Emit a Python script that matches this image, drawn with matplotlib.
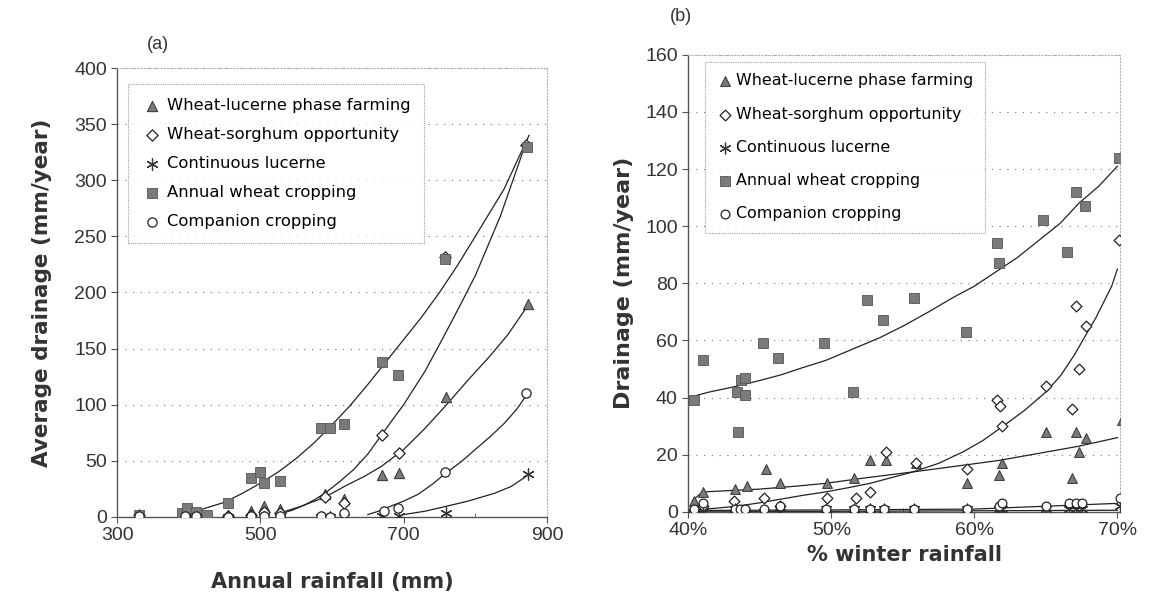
import matplotlib
matplotlib.use("Agg")
import matplotlib.pyplot as plt
from matplotlib.ticker import FuncFormatter, MultipleLocator

# ---------------- panel (a): drainage vs annual rainfall ----------------
a_wheat_x = [330, 390, 398, 410, 425, 455, 487, 499, 505, 527, 585, 597, 617, 670, 692, 757, 872]
a_wheat_y = [2, 3, 8, 4, 2, 12, 35, 40, 30, 32, 79, 79, 83, 138, 126, 230, 330]
a_luc_x = [330, 395, 410, 425, 455, 487, 505, 527, 590, 617, 670, 694, 759, 873]
a_luc_y = [1, 2, 1, 1, 2, 5, 10, 7, 20, 16, 37, 39, 107, 190]
a_sor_x = [330, 395, 410, 455, 487, 505, 527, 590, 617, 670, 694, 757, 871]
a_sor_y = [2, 2, 2, 1, 2, 4, 3, 18, 12, 73, 57, 232, 331]
a_comp_x = [330, 395, 410, 455, 487, 505, 527, 585, 597, 617, 673, 692, 757, 871]
a_comp_y = [1, 1, 1, 0, 1, 1, 1, 1, 0, 3, 5, 8, 40, 110]
a_cont_x = [330, 395, 410, 455, 487, 505, 527, 585, 597, 617, 670, 694, 759, 873]
a_cont_y = [0, 0, 0, 0, 0, 0, 0, 0, 0, 0, 1, 1, 3, 38]

# trend lines
a_fit_wheat_x = [400, 425, 450, 475, 500, 525, 550, 575, 600, 625, 650, 675, 700, 725, 750, 775, 800, 840, 875]
a_fit_wheat_y = [3, 8, 13, 21, 30, 40, 52, 66, 82, 99, 118, 138, 158, 178, 200, 224, 250, 292, 340]
a_fit_sor_x = [530, 545, 560, 575, 590, 610, 630, 650, 668, 685, 700, 730, 757, 780, 800, 835, 870]
a_fit_sor_y = [3, 6, 10, 15, 21, 31, 42, 56, 72, 87, 100, 130, 162, 190, 215, 268, 332]
a_fit_luc_x = [530, 555, 580, 600, 620, 645, 669, 700, 730, 760, 790, 820, 845, 873]
a_fit_luc_y = [4, 9, 15, 21, 28, 36, 45, 60, 79, 100, 122, 143, 162, 188]
a_fit_comp_x = [650, 665, 680, 700, 720, 740, 757, 780, 800, 820, 840, 858, 871]
a_fit_comp_y = [2, 5, 9, 14, 20, 29, 38, 49, 60, 71, 83, 96, 108]
a_fit_cont_x = [700, 730, 757, 790, 827, 850, 871]
a_fit_cont_y = [2, 5, 9, 14, 21, 27, 36]

# ---------------- panel (b): drainage vs % winter rainfall ----------------
b_wheat_x = [40.4, 41.0, 43.5, 43.4, 43.7, 44.0, 44.0, 45.2, 46.3, 49.5, 51.5, 52.5, 53.6,
             55.8, 59.4, 61.6, 61.7, 64.8, 66.5, 67.1, 67.7, 70.1]
b_wheat_y = [39, 53, 28, 42, 46, 47, 41, 59, 54, 59, 42, 74, 67, 75, 63, 94, 87, 102, 91, 112, 107, 124]
b_sor_x = [40.4, 41.0, 43.2, 45.3, 46.4, 49.7, 51.7, 52.7, 53.8, 55.9, 59.5, 61.6, 61.8, 61.9,
           65.0, 66.8, 67.1, 67.3, 67.8, 70.1]
b_sor_y = [0, 2, 4, 5, 2, 5, 5, 7, 21, 17, 15, 39, 37, 30, 44, 36, 72, 50, 65, 95]
b_luc_x = [40.4, 41.0, 43.3, 44.1, 45.4, 46.4, 49.7, 51.6, 52.7, 53.8, 55.9, 59.5, 61.7, 61.9,
           65.0, 66.8, 67.1, 67.3, 67.8, 70.3]
b_luc_y = [4, 7, 8, 9, 15, 10, 10, 12, 18, 18, 17, 10, 13, 17, 28, 12, 28, 21, 26, 32]
b_site_x = [40.4, 41.0, 43.3, 43.6, 44.0, 45.3, 46.4, 49.6, 51.6, 52.7, 53.7, 55.8, 59.5, 61.7,
            61.9, 65.0, 66.6, 67.1, 67.5, 70.2]
b_comp_y = [1, 3, 1, 1, 1, 1, 2, 1, 1, 1, 1, 1, 1, 2, 3, 2, 3, 3, 3, 5]
b_cont_y = [0, 0, 1, 0, 0, 0, 0, 1, 1, 1, 1, 1, 1, 1, 1, 1, 1, 1, 1, 2]

b_fit_wheat_x = [40, 41.5, 43.4, 45, 46.5, 48, 49.6, 51.5, 53.4, 55, 56.8, 58.5, 60, 61.5, 63, 64.5, 66, 67.3, 68.7, 70]
b_fit_wheat_y = [40, 42, 44, 46, 48, 50.5, 53, 57, 61, 65, 70, 75, 79, 84, 89, 95, 101, 108, 114, 121]
b_fit_sor_x = [40, 41.7, 43.4, 45, 46.5, 48, 49.6, 51.2, 52.7, 54.2, 55.7, 57.5, 59.2, 60.6, 62,
               63.5, 65, 66, 67, 67.8, 68.5, 69.1, 69.6, 70]
b_fit_sor_y = [0.5, 1.2, 2, 3.2, 4.5, 5.8, 7, 8.5, 10, 12, 14, 17, 21, 25, 30, 35.5, 42, 47.5, 55, 62, 68, 74, 79, 85]
b_fit_luc_x = [40.3, 41, 43, 45, 47.5, 49.6, 52.5, 55.7, 58.7, 61.7, 64.5, 67.3, 70]
b_fit_luc_y = [4, 7, 7.5, 8, 9, 10, 12, 14, 16, 18, 20.5, 23, 26]
b_fit_comp_x = [40, 50, 60, 65, 70]
b_fit_comp_y = [0.5, 0.7, 1, 2, 3]
b_fit_cont_x = [40, 55, 70]
b_fit_cont_y = [0, 0.3, 0.6]

labels = ["Wheat-lucerne phase farming", "Wheat-sorghum opportunity",
          "Continuous lucerne", "Annual wheat cropping", "Companion cropping"]

plt.rcParams['font.family'] = ['Liberation Sans', 'DejaVu Sans']

fig = plt.figure(figsize=(11.49, 6.08), dpi=100)
ax1 = fig.add_axes([0.102, 0.150, 0.374, 0.738])
ax2 = fig.add_axes([0.599, 0.158, 0.376, 0.752])

fill = '#7a7a7a'
edge = '#333333'
ast = (6, 2, 0)


def draw_points(ax, luc, sor, cont, wheat, comp, ms):
    ax.scatter(*luc, marker='^', s=ms, facecolor=fill, edgecolor=edge, lw=0.7, zorder=3, label=labels[0])
    ax.scatter(*sor, marker='D', s=ms * 0.6, facecolor='white', edgecolor='#222', lw=0.9, zorder=3, label=labels[1])
    ax.scatter(*cont, marker=ast, s=ms * 1.2, color='#333', lw=0.9, zorder=3, label=labels[2])
    ax.scatter(*wheat, marker='s', s=ms * 0.9, facecolor=fill, edgecolor='#555', lw=0.6, zorder=3, label=labels[3])
    ax.scatter(*comp, marker='o', s=ms * 0.8, facecolor='white', edgecolor='#222', lw=0.9, zorder=3, label=labels[4])


def style(ax):
    for side in ['top', 'right']:
        ax.spines[side].set_linestyle((0, (1, 2)))
        ax.spines[side].set_color('#b0b0b0')
        ax.spines[side].set_linewidth(0.8)
    for side in ['left', 'bottom']:
        ax.spines[side].set_color('#555555')
        ax.spines[side].set_linewidth(1.0)
    ax.yaxis.grid(True, linestyle=(0, (1, 6)), color='#777777', lw=0.8)
    ax.set_axisbelow(True)
    ax.tick_params(axis='both', labelsize=14, color='#555555', labelcolor='#333333', length=4, direction='out')
    ax.tick_params(axis='x', which='minor', length=3, direction='in', color='#555555')


def style_legend(leg):
    frame = leg.get_frame()
    frame.set_edgecolor('#888888')
    frame.set_linestyle((0, (1, 1)))
    frame.set_linewidth(0.8)


# panel (a)
for fx, fy in [(a_fit_wheat_x, a_fit_wheat_y), (a_fit_sor_x, a_fit_sor_y), (a_fit_luc_x, a_fit_luc_y),
               (a_fit_comp_x, a_fit_comp_y), (a_fit_cont_x, a_fit_cont_y)]:
    ax1.plot(fx, fy, color='#222222', lw=0.9, zorder=2)
draw_points(ax1, (a_luc_x, a_luc_y), (a_sor_x, a_sor_y), (a_cont_x, a_cont_y),
            (a_wheat_x, a_wheat_y), (a_comp_x, a_comp_y), 55)
ax1.set_xlim(300, 900)
ax1.set_ylim(0, 400)
ax1.set_xticks([300, 500, 700, 900])
ax1.xaxis.set_minor_locator(MultipleLocator(100))
ax1.set_yticks(range(0, 401, 50))
style(ax1)
ax1.set_xlabel("Annual rainfall (mm)", fontsize=15, fontweight='bold', color='#333333', labelpad=20,
               family=['DejaVu Sans'])
ax1.set_ylabel("Average drainage (mm/year)", fontsize=15.5, fontweight='bold', color='#333333', labelpad=16,
               family=['DejaVu Sans'])
fig.text(0.128, 0.920, "(a)", fontsize=13, color='#333333')
leg1 = ax1.legend(loc='upper left', bbox_to_anchor=(0.026, 0.964), frameon=True, fancybox=False,
                  borderaxespad=0, handletextpad=0.3, borderpad=0.85, labelspacing=0.85, handlelength=1.2,
                  prop={'family': 'DejaVu Sans', 'size': 11.8})
style_legend(leg1)

# panel (b)
for fx, fy in [(b_fit_wheat_x, b_fit_wheat_y), (b_fit_sor_x, b_fit_sor_y), (b_fit_luc_x, b_fit_luc_y),
               (b_fit_comp_x, b_fit_comp_y), (b_fit_cont_x, b_fit_cont_y)]:
    ax2.plot(fx, fy, color='#222222', lw=0.9, zorder=2)
draw_points(ax2, (b_luc_x, b_luc_y), (b_sor_x, b_sor_y), (b_site_x, b_cont_y),
            (b_wheat_x, b_wheat_y), (b_site_x, b_comp_y), 50)
ax2.set_xlim(40, 70.2)
ax2.set_ylim(0, 160)
ax2.set_xticks([40, 50, 60, 70])
ax2.xaxis.set_minor_locator(MultipleLocator(5))
ax2.set_yticks(range(0, 161, 20))
ax2.xaxis.set_major_formatter(FuncFormatter(lambda v, p: "%d%%" % v))
style(ax2)
ax2.set_xlabel("% winter rainfall", fontsize=15, fontweight='bold', color='#333333', labelpad=4,
               family=['DejaVu Sans'])
ax2.set_ylabel("Drainage (mm/year)", fontsize=16, fontweight='bold', color='#333333', labelpad=8,
               family=['DejaVu Sans'])
fig.text(0.583, 0.965, "(b)", fontsize=13, color='#333333')
leg2 = ax2.legend(loc='upper left', bbox_to_anchor=(0.039, 0.985), frameon=True, fancybox=False,
                  borderaxespad=0, handletextpad=0.2, borderpad=0.75, labelspacing=1.15, handlelength=1.0,
                  prop={'family': 'DejaVu Sans', 'size': 11.4})
style_legend(leg2)

fig.savefig("out.png", dpi=100)
